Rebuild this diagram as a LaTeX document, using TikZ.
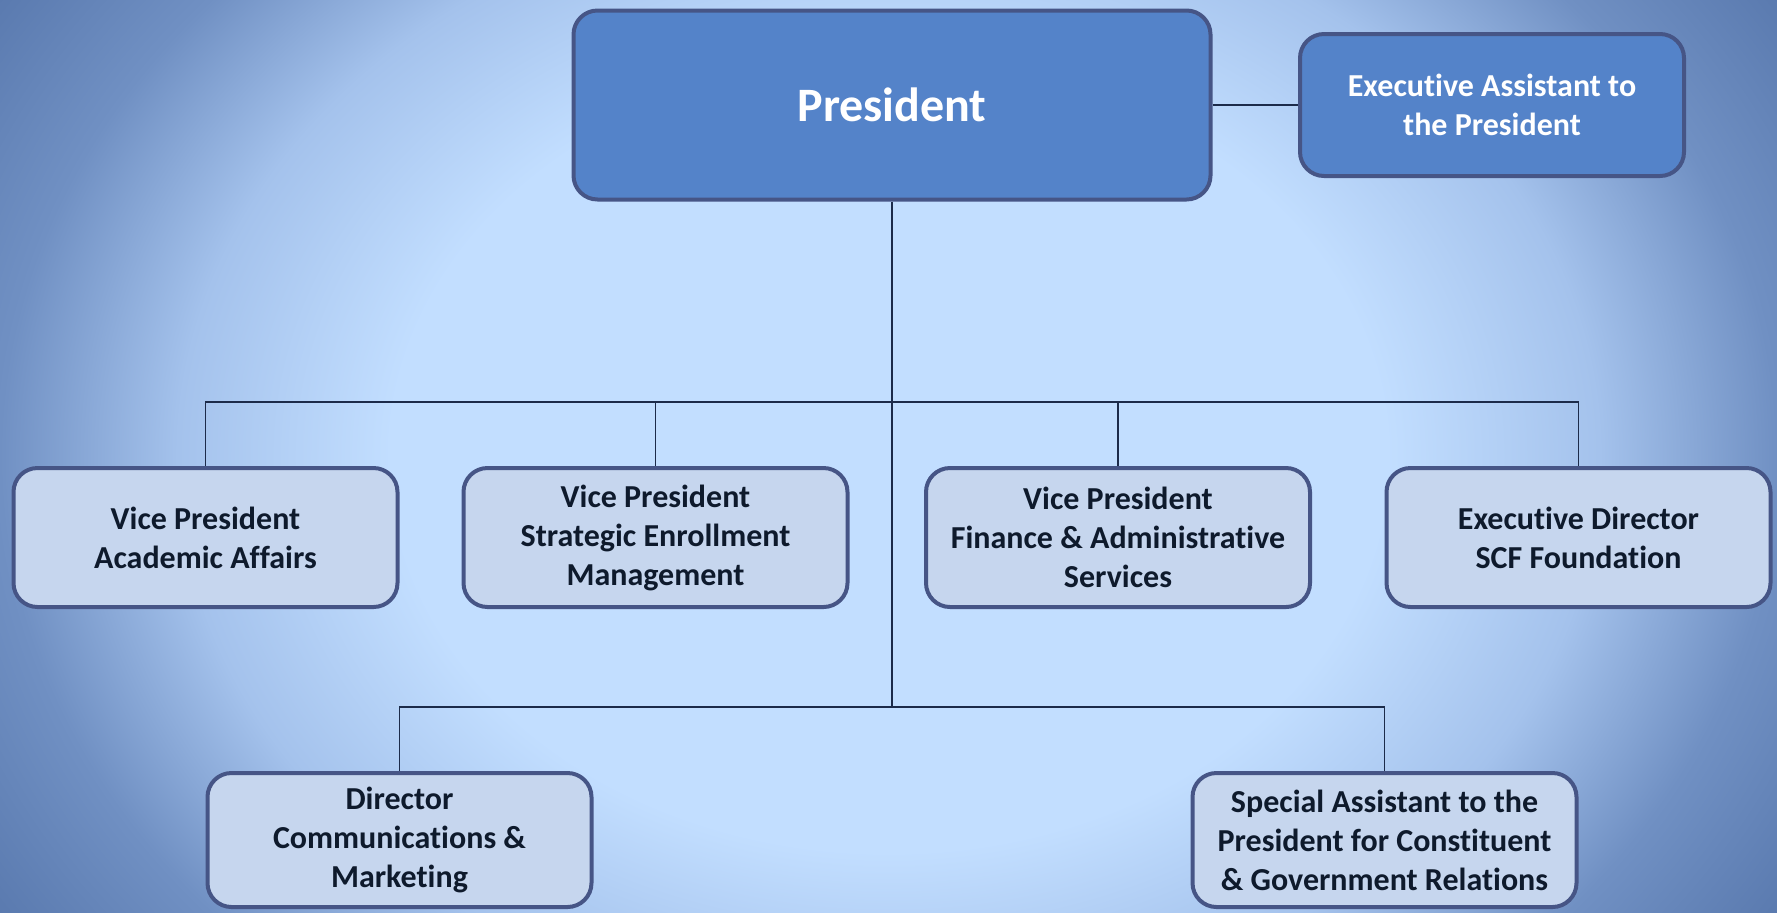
\documentclass[tikz,border=0pt]{standalone}
\usepackage{fontspec}
\setmainfont{Carlito}[Ligatures=NoCommon]
\usepackage{tikz}

\definecolor{bglight}{HTML}{C2DEFF}
\definecolor{bgmid}{HTML}{A4C2EC}
\definecolor{bgedge}{HTML}{7090C3}
\definecolor{bgcorner}{HTML}{5070A6}
\definecolor{topfill}{HTML}{5483C9}
\definecolor{lowfill}{HTML}{C6D6EE}
\definecolor{boxline}{HTML}{465586}
\definecolor{linkline}{HTML}{1C2B4A}
\definecolor{boxtext}{HTML}{0E1A2C}

\pgfdeclareradialshading{bgglow}{\pgfpoint{0bp}{0bp}}{color(0bp)=(bglight); color(14bp)=(bglight); color(20bp)=(bgmid); color(25bp)=(bgedge); color(32bp)=(bgcorner); color(50bp)=(bgcorner)}

\begin{document}
\begin{tikzpicture}[x=0.5pt, y=-0.5pt,
  unit/.style={draw=boxline, line width=2pt, rounded corners=12pt, align=center,
    font=\bfseries\fontsize{16}{19.5}\selectfont, inner sep=2pt},
  topunit/.style={unit, fill=topfill, text=white},
  lowunit/.style={unit, fill=lowfill, text=boxtext, minimum width=192pt, minimum height=69.5pt},
  link/.style={draw=linkline, line width=0.9pt}]
  % background
  \begin{scope}
    \clip (0,0) rectangle (1777,912);
    \shade[shading=bgglow] (0,-250) rectangle (1777,1162);
  \end{scope}
  \useasboundingbox (0,0) rectangle (1777,912);

  % top level
  \node[topunit, minimum width=318.5pt, minimum height=94.5pt, font=\bfseries\fontsize{24}{29}\selectfont] (pres) at (892,105) {President};
  \node[topunit, minimum width=192pt, minimum height=71pt] (execasst) at (1492,105) {Executive Assistant to\\the President};

  % vice presidents
  \node[lowunit] (vpaa) at (205.5,537.5) {Vice President\\Academic Affairs};
  \node[lowunit] (vpsem) at (655.5,537.5) {Vice President\\Strategic Enrollment\\Management};
  \node[lowunit] (vpfas) at (1118,537.5) {Vice President\\Finance \& Administrative\\Services};
  \node[lowunit] (edscf) at (1578.5,537.5) {Executive Director\\SCF Foundation};

  % directors
  \node[lowunit, minimum height=67pt] (dircm) at (399.5,840) {Director\\Communications \&\\Marketing};
  \node[lowunit, minimum height=67pt] (spasst) at (1384.5,840) {Special Assistant to the\\President for Constituent\\\& Government Relations};

  \coordinate (vpbar) at (892,402);
  \coordinate (dirbar) at (892,707);

  % connectors
  \draw[link] (pres.east) -- (execasst.west);
  \draw[link] (pres.south) -- (dirbar);
  \draw[link] (vpaa.north) -- (vpaa.north |- vpbar) -- (edscf.north |- vpbar) -- (edscf.north);
  \draw[link] (vpsem.north) -- (vpsem.north |- vpbar);
  \draw[link] (vpfas.north) -- (vpfas.north |- vpbar);
  \draw[link] (dircm.north) -- (dircm.north |- dirbar) -- (spasst.north |- dirbar) -- (spasst.north);
\end{tikzpicture}
\end{document}
